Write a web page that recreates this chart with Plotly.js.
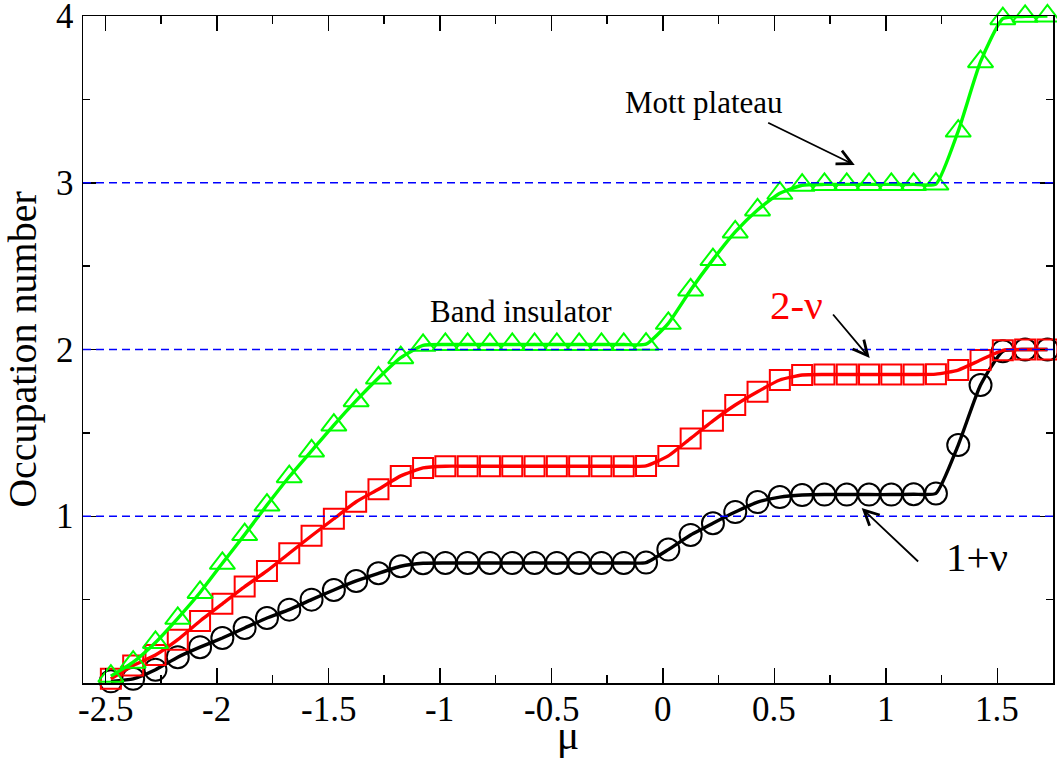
<!DOCTYPE html>
<html>
<head>
<meta charset="utf-8">
<script src="https://cdn.plot.ly/plotly-3.0.1.min.js"></script>
<style>
  html, body { margin: 0; padding: 0; background: #ffffff; }
  #chart { width: 1057px; height: 759px; }
</style>
</head>
<body>
<div id="chart"></div>
<script>
// chemical potential grid (mu)
const mu = [-2.475, -2.375, -2.275, -2.175, -2.075, -1.975, -1.875, -1.775, -1.675, -1.575,
            -1.475, -1.375, -1.275, -1.175, -1.075, -0.975, -0.875, -0.775, -0.675, -0.575,
            -0.475, -0.375, -0.275, -0.175, -0.075, 0.025, 0.125, 0.225, 0.325, 0.425,
            0.525, 0.625, 0.725, 0.825, 0.925, 1.025, 1.125, 1.225, 1.325, 1.425,
            1.525, 1.625, 1.725];

// black circles (1+nu branch)
const nBlack = [0.010, 0.025, 0.080, 0.155, 0.215, 0.270, 0.330, 0.390, 0.440, 0.500,
                0.558, 0.612, 0.658, 0.700, 0.718, 0.720, 0.720, 0.720, 0.720, 0.720,
                0.720, 0.720, 0.720, 0.720, 0.722, 0.800, 0.888, 0.958, 1.025, 1.085,
                1.115, 1.127, 1.130, 1.130, 1.130, 1.130, 1.132, 1.137, 1.427, 1.787,
                1.990, 2.000, 2.000];

// red squares (2-nu branch)
const nRed = [0.025, 0.105, 0.168, 0.260, 0.372, 0.475, 0.578, 0.672, 0.778, 0.883,
              0.985, 1.087, 1.162, 1.242, 1.290, 1.300, 1.300, 1.300, 1.300, 1.300,
              1.300, 1.300, 1.300, 1.300, 1.302, 1.362, 1.467, 1.572, 1.667, 1.747,
              1.817, 1.847, 1.850, 1.850, 1.850, 1.850, 1.850, 1.852, 1.877, 1.937,
              1.995, 2.000, 2.000];

// green triangles (total occupation)
const nGreen = [0.041, 0.125, 0.243, 0.388, 0.543, 0.718, 0.890, 1.067, 1.237, 1.392,
                1.547, 1.693, 1.829, 1.951, 2.025, 2.030, 2.030, 2.030, 2.030, 2.030,
                2.030, 2.030, 2.030, 2.030, 2.032, 2.157, 2.357, 2.539, 2.705, 2.837,
                2.937, 2.985, 2.990, 2.990, 2.990, 2.990, 2.990, 2.992, 3.310, 3.726,
                3.984, 3.998, 4.000];

// reference integer fillings (dashed)
const levels = [1, 2, 3];

// tick labels
const xTickVals = [-2.5, -2, -1.5, -1, -0.5, 0, 0.5, 1, 1.5];
const xTickText = ["-2.5", "-2", "-1.5", "-1", "-0.5", "0", "0.5", "1", "1.5"];
const yTickVals = [1, 2, 3, 4];
const yTickText = ["1", "2", "3", "4"];

// annotation texts and anchors
const labelTexts = ["Mott plateau", "Band insulator", "2-\u03bd", "1+\u03bd"];
const labelX = [0.185, -0.635, 0.60, 1.410];
const labelY = [3.48, 2.225, 2.265, 0.755];
const labelColors = ["#000000", "#000000", "#ff0000", "#000000"];
const labelSizes = [31, 31, 41, 41];

// arrows: tail -> head
const arrowTailX = [0.466, 0.758, 1.152];
const arrowTailY = [3.364, 2.219, 0.720];
const arrowHeadX = [0.861, 0.928, 0.892];
const arrowHeadY = [3.106, 1.949, 1.049];

const FONT = "Liberation Serif";

function series(y, color, symbol, size) {
  return {
    x: mu, y: y, type: "scatter", mode: "lines+markers",
    cliponaxis: false,
    line: { color: color, width: 3.4, shape: "spline", smoothing: 0.5 },
    marker: { symbol: symbol, size: size, color: color, line: { color: color, width: 2 } },
    showlegend: false, hoverinfo: "skip"
  };
}

const data = [
  series(nBlack, "#000000", "circle-open", 22),
  series(nRed, "#ff0000", "square-open", 20),
  series(nGreen, "#00ff00", "triangle-up-open", 22)
];

const shapes = levels.map(v => ({
  type: "line", xref: "paper", x0: 0, x1: 1, yref: "y", y0: v, y1: v,
  line: { color: "#0000ff", width: 1.5, dash: "8px,5px" }, layer: "above"
}));

const annotations = [];
// tick labels, placed as text next to the axes
xTickVals.forEach((v, i) => {
  annotations.push({
    x: v, xref: "x", y: 0, yref: "paper", yshift: -26, height: 26,
    xanchor: "center", yanchor: "middle", valign: "middle", showarrow: false,
    text: xTickText[i], font: { family: FONT, size: 35, color: "#000000" }
  });
});
yTickVals.forEach((v, i) => {
  annotations.push({
    x: 0, xref: "paper", xshift: -7, y: v, yref: "y", height: 26,
    xanchor: "right", yanchor: "middle", valign: "middle", showarrow: false,
    text: yTickText[i], font: { family: FONT, size: 35, color: "#000000" }
  });
});
labelTexts.forEach((t, i) => {
  annotations.push({
    x: labelX[i], y: labelY[i], xref: "x", yref: "y", text: t, showarrow: false,
    xanchor: "center", yanchor: "middle",
    font: { family: FONT, size: labelSizes[i], color: labelColors[i] }
  });
});
arrowTailX.forEach((tx, i) => {
  annotations.push({
    x: arrowHeadX[i], y: arrowHeadY[i], xref: "x", yref: "y",
    ax: tx, ay: arrowTailY[i], axref: "x", ayref: "y",
    text: "", showarrow: true, arrowhead: 5, arrowsize: 1.6, arrowwidth: 1.8,
    arrowcolor: "#000000", standoff: 0, startstandoff: 0
  });
});

const layout = {
  width: 1057, height: 759,
  margin: { l: 83, r: 4, t: 16, b: 76, pad: 0 },
  paper_bgcolor: "#ffffff", plot_bgcolor: "#ffffff",
  showlegend: false,
  font: { family: FONT, color: "#000000" },
  xaxis: {
    range: [-2.6, 1.75], showgrid: false, zeroline: false,
    showline: true, linecolor: "#000000", linewidth: 1.5, mirror: "allticks",
    ticks: "inside", ticklen: 15, tickwidth: 1.5, tickcolor: "#000000",
    tickmode: "array", tickvals: xTickVals, ticktext: xTickText, showticklabels: false,
    minor: { ticks: "inside", ticklen: 8, tickwidth: 1.5, tickcolor: "#000000", dtick: 0.25, tick0: 0, showgrid: false },
    title: { text: "\u03bc", font: { family: FONT, size: 42, color: "#000000" }, standoff: 36 }
  },
  yaxis: {
    range: [0, 4], showgrid: false, zeroline: false,
    showline: true, linecolor: "#000000", linewidth: 1.5, mirror: "allticks",
    ticks: "inside", ticklen: 13, tickwidth: 1.5, tickcolor: "#000000",
    tickmode: "array", tickvals: yTickVals, ticktext: yTickText, showticklabels: false,
    minor: { ticks: "inside", ticklen: 7, tickwidth: 1.5, tickcolor: "#000000", dtick: 0.5, tick0: 0, showgrid: false },
    title: { text: "Occupation number", font: { family: FONT, size: 40, color: "#000000" }, standoff: 40 }
  },
  shapes: shapes,
  annotations: annotations
};

Plotly.newPlot("chart", data, layout, { staticPlot: true, displayModeBar: false });
</script>
</body>
</html>
